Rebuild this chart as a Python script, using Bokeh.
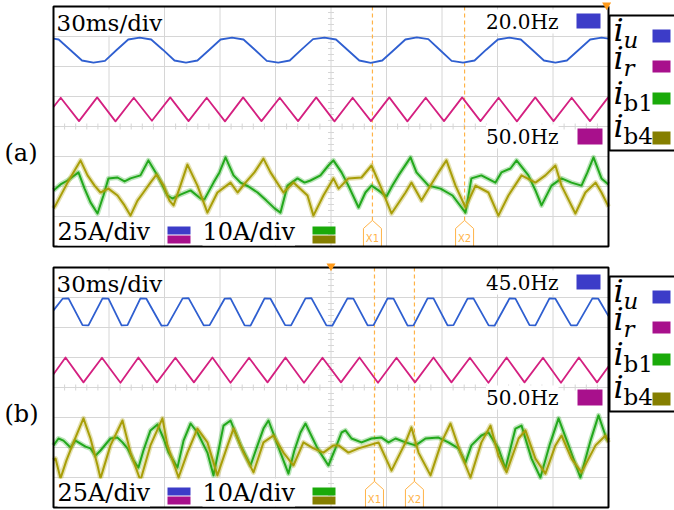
from bokeh.plotting import figure
from bokeh.models import Range1d, Label
from bokeh.embed import file_html
from bokeh.resources import INLINE

# ---------------- data (time in ms, 30 ms/div; amplitude in screen divisions) ----------------
GRID_T = [0, 30, 60, 90, 120, 150, 180, 210, 240, 270, 300]
GRID_Y = [-4, -3, -2, -1, 0, 1, 2, 3, 4]

# panel (a)
T_IU_A = [0, 2.8, 9.1, 15.4, 21.6, 27.8, 34.1, 40.4, 46.6, 52.8, 59.1, 65.4, 71.6, 77.8, 84.1, 90.3, 96.5, 102.7,
          109.0, 115.3, 121.5, 127.7, 134.0, 140.3, 146.5, 152.7, 159.0, 165.3, 171.5, 177.7, 184.0, 190.2, 196.4,
          202.6, 208.9, 215.2, 221.4, 227.6, 233.9, 240.2, 246.4, 252.6, 258.9, 265.1, 271.3, 277.5, 283.8, 290.1,
          296.3, 300.0]
Y_IU_A = [2.93, 2.90, 2.55, 2.20, 2.13, 2.19, 2.55, 2.90, 2.96, 2.90, 2.56, 2.20, 2.13, 2.20, 2.55, 2.90, 2.96, 2.90,
          2.55, 2.19, 2.13, 2.20, 2.56, 2.91, 2.96, 2.90, 2.55, 2.20, 2.12, 2.20, 2.55, 2.90, 2.97,
          2.91, 2.55, 2.19, 2.13, 2.20, 2.56, 2.90, 2.96, 2.90, 2.55, 2.20, 2.13, 2.20, 2.55, 2.90,
          2.96, 2.93]
T_IR_A = [0, 3.9, 13.8, 23.6, 33.5, 43.4, 53.2, 63.1, 73.0, 82.8, 92.7, 102.5, 112.4, 122.3, 132.2, 142.0, 151.9,
          161.7, 171.6, 181.5, 191.3, 201.2, 211.1, 220.9, 230.8, 240.6, 250.5, 260.4, 270.3, 280.1, 290.0, 299.8]
Y_IR_A = [0.65, 0.96, 0.18, 0.97, 0.17, 0.96, 0.19, 0.97, 0.18, 0.96, 0.17, 0.97, 0.18, 0.96, 0.18, 0.97, 0.17,
          0.96, 0.18, 0.97, 0.17, 0.96, 0.18, 0.97, 0.18, 0.96, 0.17, 0.97, 0.18, 0.96, 0.18, 0.97]
T_IB1_A = [0, 3.8, 7.6, 13.5, 16.8, 20.0, 23.8, 27.0, 29.7, 34.6, 38.4, 41.6, 47.0, 51.3, 56.2, 61.6, 64.3, 68.6,
           74.1, 79.5, 81.6, 86.5, 89.7, 93.0, 97.3, 101.1, 105.4, 110.3, 115.1, 119.5, 122.7, 126.5, 131.9, 135.7,
           138.9, 144.3, 148.6, 151.3, 155.7, 159.4, 164.9, 168.6, 171.9, 175.7, 180.0, 183.2, 186.5, 193.0, 196.2,
           202.7, 209.2, 215.7, 222.7, 225.9, 231.3, 238.9, 242.1, 247.0, 250.3, 256.7, 260.5, 263.8, 269.2, 274.6,
           280.0, 285.4, 288.6, 291.9, 296.2, 300.0]
Y_IB1_A = [-2.13, -1.93, -1.80, -1.53, -2.07, -2.53, -2.90, -2.30, -1.73, -1.70, -1.83, -1.73, -1.63, -1.13, -1.63,
           -2.30, -2.40, -2.27, -2.13, -2.40, -2.43, -1.87, -1.53, -1.03, -1.63, -1.87, -2.00, -2.20, -2.47, -2.73,
           -2.87, -1.97, -1.73, -1.87, -1.80, -1.63, -1.30, -1.13, -1.53, -1.97, -2.70, -2.20, -1.97, -2.13, -2.33,
           -1.97, -1.63, -1.03, -1.53, -1.97, -2.07, -2.30, -2.87, -1.73, -1.63, -1.87, -1.53, -1.40, -1.13, -1.63,
           -2.13, -2.63, -1.97, -1.73, -1.87, -1.97, -1.53, -1.03, -1.73, -1.93]
T_IB4_A = [0, 1.1, 7.6, 11.4, 14.6, 18.4, 22.2, 25.4, 29.7, 34.6, 38.4, 41.6, 45.4, 48.6, 52.4, 55.7, 59.5, 62.7,
           64.9, 68.6, 72.4, 77.8, 83.2, 88.6, 95.7, 99.5, 103.8, 108.6, 113.5, 117.3, 124.3, 129.7, 137.3, 140.5,
           145.9, 151.3, 154.1, 159.4, 166.5, 171.9, 177.3, 182.7, 190.3, 193.5, 198.9, 203.8, 208.1, 212.4, 217.3,
           222.7, 228.1, 235.1, 240.5, 245.9, 253.0, 260.5, 265.9, 271.3, 274.6, 282.1, 287.5, 293.0, 296.2, 300.0]
Y_IB4_A = [-2.73, -2.63, -1.87, -1.47, -1.13, -1.63, -1.97, -2.20, -2.07, -2.30, -2.63, -2.97, -2.47, -2.20, -1.87,
           -1.60, -1.97, -2.47, -2.63, -1.97, -1.27, -1.97, -2.87, -2.20, -1.87, -2.20, -1.87, -1.53, -1.07, -1.53,
           -2.20, -1.87, -2.30, -2.97, -2.30, -1.73, -2.07, -1.73, -1.70, -1.30, -2.07, -2.90, -2.20, -1.87, -2.47,
           -1.97, -1.53, -1.13, -1.97, -2.70, -1.97, -2.20, -2.97, -2.30, -1.63, -1.87, -1.63, -1.30, -1.97, -2.90,
           -2.20, -1.87, -2.20, -2.67]

# panel (b)
T_IU_B = [0, 4.9, 8.1, 15.7, 18.9, 26.5, 29.7, 36.8, 40.0, 47.0, 50.2, 58.4, 61.6, 69.8, 73.0, 81.2, 84.4, 92.5,
          95.7, 103.3, 106.5, 114.1, 117.3, 125.2, 128.4, 136.2, 139.4, 147.5, 150.7, 158.9, 162.1, 169.8, 173.0,
          180.6, 183.8, 191.4, 194.6, 202.2, 205.4, 213.0, 216.2, 223.8, 227.0, 235.2, 238.4, 246.5, 249.7, 257.3,
          260.5, 268.1, 271.3, 279.7, 282.9, 291.3, 294.5, 300.0]
Y_IU_B = [2.57, 2.96, 2.97, 2.08, 2.07, 2.97, 2.96, 2.07, 2.08, 2.97, 2.96, 2.06, 2.07, 2.97, 2.98, 2.07, 2.08, 2.96,
          2.97, 2.07, 2.06, 2.97, 2.96, 2.08, 2.07, 2.97, 2.98, 2.07, 2.06, 2.97, 2.96, 2.07, 2.08,
          2.97, 2.96, 2.06, 2.07, 2.97, 2.97, 2.07, 2.08, 2.96, 2.97, 2.07, 2.06, 2.97, 2.96, 2.08,
          2.07, 2.97, 2.96, 2.07, 2.07, 2.97, 2.96, 2.38]
T_IR_B = [0, 6.5, 16.2, 26.2, 36.2, 45.9, 55.9, 65.9, 75.9, 85.9, 95.7, 105.7, 115.7, 125.4, 135.4, 145.4, 155.4,
          165.4, 175.4, 185.4, 195.4, 205.4, 215.1, 225.1, 235.1, 244.9, 254.6, 264.6, 274.3, 284.0, 293.8, 300.0]
Y_IR_B = [0.44, 1.00, 0.17, 0.99, 0.16, 1.00, 0.17, 0.99, 0.17, 1.00, 0.16, 0.99, 0.17, 1.00, 0.16, 0.99, 0.17,
          1.00, 0.16, 0.99, 0.17, 1.00, 0.17, 0.99, 0.16, 1.00, 0.17, 0.99, 0.16, 1.00, 0.17, 0.70]
T_IB1_B = [0, 2.7, 5.4, 9.2, 11.9, 14.6, 17.3, 20.0, 22.7, 25.4, 30.8, 34.6, 37.3, 40.0, 43.2, 45.9, 48.6, 52.4,
           56.2, 59.5, 62.2, 67.0, 70.3, 74.1, 77.8, 83.2, 86.5, 89.2, 91.9, 95.7, 101.1, 106.5, 109.7, 113.5, 116.2,
           122.7, 127.0, 130.2, 133.5, 136.2, 142.7, 148.6, 152.4, 155.7, 157.8, 161.1, 166.5, 171.9, 177.3, 181.1,
           184.9, 190.3, 195.7, 201.1, 208.1, 213.5, 218.9, 222.7, 225.9, 231.3, 235.1, 240.5, 244.3, 249.7, 253.0,
           258.4, 263.2, 268.1, 273.0, 278.4, 284.8, 290.3, 294.6, 298.9, 300.0]
Y_IB1_B = [-1.93, -1.70, -1.77, -2.00, -1.77, -1.87, -1.97, -2.03, -2.27, -2.10, -1.70, -1.67, -1.83, -2.03, -2.43,
           -2.67, -2.10, -1.43, -1.23, -1.70, -2.17, -2.67, -1.77, -1.20, -1.50, -2.17, -2.93, -2.10, -1.27, -1.10,
           -1.93, -2.60, -2.03, -1.37, -1.10, -2.17, -2.87, -2.10, -1.50, -1.20, -2.03, -2.60, -2.03, -1.50, -1.43,
           -1.70, -1.83, -1.70, -1.67, -1.83, -1.70, -1.83, -1.93, -1.70, -1.67, -1.83, -2.03, -2.50, -1.93, -1.60,
           -1.50, -2.03, -2.70, -1.37, -1.27, -2.37, -3.00, -1.93, -1.03, -1.93, -3.00, -1.77, -0.93, -1.70, -1.77]
T_IB4_B = [0, 1.1, 3.8, 7.0, 10.8, 16.2, 20.0, 23.8, 25.4, 30.8, 37.3, 41.6, 47.0, 52.4, 58.9, 61.6, 67.6, 72.4,
           77.8, 83.2, 88.6, 94.1, 97.3, 102.7, 108.1, 113.5, 118.9, 124.3, 129.7, 135.1, 140.5, 145.9, 151.3, 154.1,
           159.4, 164.9, 170.3, 175.7, 182.7, 190.3, 193.5, 197.3, 203.8, 209.7, 214.6, 220.0, 225.4, 231.3, 236.2,
           240.5, 244.9, 251.4, 255.1, 260.5, 265.9, 271.3, 274.6, 280.0, 285.4, 293.0, 298.4, 300.0]
Y_IB4_B = [-2.43, -2.37, -3.03, -2.43, -1.83, -1.03, -1.70, -2.60, -3.03, -1.93, -1.10, -2.17, -3.10, -1.93, -1.03,
           -1.93, -3.00, -2.17, -1.37, -1.83, -2.93, -1.93, -1.37, -2.17, -2.83, -1.83, -1.60, -2.17, -2.60, -1.83,
           -2.03, -2.17, -1.93, -1.93, -2.17, -2.03, -1.93, -1.83, -2.77, -1.83, -1.33, -2.17, -2.93, -1.83, -1.20,
           -2.17, -3.00, -1.83, -1.27, -2.27, -2.83, -1.70, -1.43, -2.37, -2.87, -1.93, -1.60, -2.37, -2.83, -1.93,
           -1.60, -1.83]

CURSORS_A = [172.4, 222.2]
CURSORS_B = [173.5, 195.1]
CURSOR_NAMES = ["X1", "X2"]
FREQ_U = {"a": "20.0Hz", "b": "45.0Hz"}
FREQ_R = "50.0Hz"
TIME_SCALE = "30ms/div"
AMP_SCALES = ["25A/div", "10A/div"]
PANEL_NAMES = ["(a)", "(b)"]
LEGEND_SUBS = ["u", "r", "b1", "b4"]

# ---------------- styling / layout ----------------
W, H = 674, 510
L, R = 53, 608
DIV = 30.0
TOPS = {"a": 6, "b": 267}
FONT = "DejaVu Serif"
C_TRACE = {"u": "#2f5fd0", "r": "#d42080", "b1": "#22a81c", "b4": "#a89e08"}
C_LEG = ["#3c3cc8", "#a8108c", "#1aaa0a", "#857f00"]
C_CUR = "#ffb347"
GRID_C = "#d6d6d6"

ms_per_px = 300.0 / (R - L)
p = figure(width=W, height=H, x_range=Range1d(0, W), y_range=Range1d(H, 0),
           min_border=0, toolbar_location=None, output_backend="svg",
           x_axis_type=None, y_axis_type=None, outline_line_color=None)
yr = {}
for k, top in TOPS.items():
    c = top + 4 * DIV
    yr["y" + k] = Range1d((c - H) / DIV, c / DIV)
p.extra_y_ranges = yr
p.extra_x_ranges = {"t": Range1d(-L * ms_per_px, (W - L) * ms_per_px)}

series = {
    "a": [(T_IU_A, Y_IU_A, "u"), (T_IR_A, Y_IR_A, "r"), (T_IB1_A, Y_IB1_A, "b1"), (T_IB4_A, Y_IB4_A, "b4")],
    "b": [(T_IU_B, Y_IU_B, "u"), (T_IR_B, Y_IR_B, "r"), (T_IB1_B, Y_IB1_B, "b1"), (T_IB4_B, Y_IB4_B, "b4")],
}
cursors = {"a": CURSORS_A, "b": CURSORS_B}


def text(x, baseline, s, size, **extra):
    """Place text so that its glyph baseline sits at `baseline` (pixels from top)."""
    opts = dict(text_font=FONT, text_font_size="%dpx" % size, text_baseline="bottom", text_color="black")
    opts.update(extra)
    p.add_layout(Label(x=x, y=baseline + round(0.22 * size), text=s, **opts))


for idx, k in enumerate("ab"):
    kw = dict(x_range_name="t", y_range_name="y" + k)
    top = TOPS[k]
    # graticule
    p.segment(x0=GRID_T, y0=[-4] * len(GRID_T), x1=GRID_T, y1=[4] * len(GRID_T),
              line_color=GRID_C, line_width=1, **kw)
    p.segment(x0=[0] * len(GRID_Y), y0=GRID_Y, x1=[300] * len(GRID_Y), y1=GRID_Y,
              line_color=GRID_C, line_width=1, **kw)
    mt = [6 * i for i in range(1, 50) if i % 5]
    p.segment(x0=mt, y0=[-0.1] * len(mt), x1=mt, y1=[0.1] * len(mt), line_color=GRID_C, line_width=1, **kw)
    my = [0.2 * i for i in range(-19, 20) if i % 5]
    p.segment(x0=[148.4] * len(my), y0=my, x1=[151.6] * len(my), y1=my, line_color=GRID_C, line_width=1, **kw)

    # cursors
    for ct, cn in zip(cursors[k], CURSOR_NAMES):
        p.segment(x0=[ct], y0=[4], x1=[ct], y1=[-3.13], line_color=C_CUR, line_width=1.2,
                  line_dash="4 3", **kw)
        hw = 9 * ms_per_px
        p.patch(x=[ct, ct + hw, ct + hw, ct - hw, ct - hw], y=[-3.13, -3.4, -4, -4, -3.4],
                fill_color="white", line_color=C_CUR, line_width=1, **kw)
        p.add_layout(Label(x=ct, y=-3.72, text=cn, text_align="center", text_baseline="middle",
                           text_font_size="10px", text_font="DejaVu Sans", text_color=C_CUR, **kw))

    # traces
    for ts, ys, name in series[k]:
        if name in ("b1", "b4"):
            p.line(ts, ys, line_color=C_TRACE[name], line_width=5, line_alpha=0.3, line_join="round", **kw)
            p.line(ts, ys, line_color=C_TRACE[name], line_width=2.0, line_join="round", **kw)
        else:
            p.line(ts, ys, line_color=C_TRACE[name], line_width=1.8, line_join="round", **kw)

    # frame
    p.quad(left=0, right=300, bottom=-4, top=4, fill_color=None, line_color="black", line_width=2, **kw)
    # trigger marker
    p.scatter(x=[150 if k == "b" else 299], y=[4.05], marker="inverted_triangle", size=9,
              fill_color="#ff9a1a", line_color=None, **kw)

    # in-screen labels
    text(56, top + 24, TIME_SCALE, 23, background_fill_color="white")
    text(558, top + 23, FREQ_U[k], 20, text_align="right", background_fill_color="white")
    p.quad(left=576, right=600, top=top + 7, bottom=top + 22, fill_color=C_LEG[0], line_color=None)
    text(558, top + 138, FREQ_R, 20, text_align="right", background_fill_color="white")
    p.quad(left=577, right=602, top=top + 122, bottom=top + 138, fill_color=C_LEG[1], line_color=None)

    text(57, top + 234, AMP_SCALES[0], 24, background_fill_color="white")
    p.quad(left=167, right=190, top=top + 220, bottom=top + 228, fill_color=C_LEG[0], line_color=None)
    p.quad(left=167, right=190, top=top + 229, bottom=top + 237, fill_color=C_LEG[1], line_color=None)
    text(202, top + 234, AMP_SCALES[1], 24, background_fill_color="white")
    p.quad(left=312, right=335, top=top + 220, bottom=top + 228, fill_color=C_LEG[2], line_color=None)
    p.quad(left=312, right=335, top=top + 229, bottom=top + 237, fill_color=C_LEG[3], line_color=None)

    # panel name
    p.add_layout(Label(x=4, y=top + 146, text=PANEL_NAMES[idx], text_font=FONT, text_font_size="24px",
                       text_baseline="middle", text_color="black"))

    # legend box
    off = top - 6
    p.quad(left=609, right=690, top=off + 15, bottom=off + 150, fill_color="white",
           line_color="black", line_width=2)
    base = [41, 69, 104, 137]
    sq = [(29, 42), (60, 72), (92, 104), (131, 144)]
    for j, sub in enumerate(LEGEND_SUBS):
        text(613, off + base[j], "i", 32, text_font_style="italic")
        text(623, off + base[j] + 6, sub, 23, text_font_style="italic" if j < 2 else "normal")
        p.quad(left=652, right=670, top=off + sq[j][0], bottom=off + sq[j][1], fill_color=C_LEG[j],
               line_color=None)

open("out.html", "w").write(file_html(p, INLINE))
